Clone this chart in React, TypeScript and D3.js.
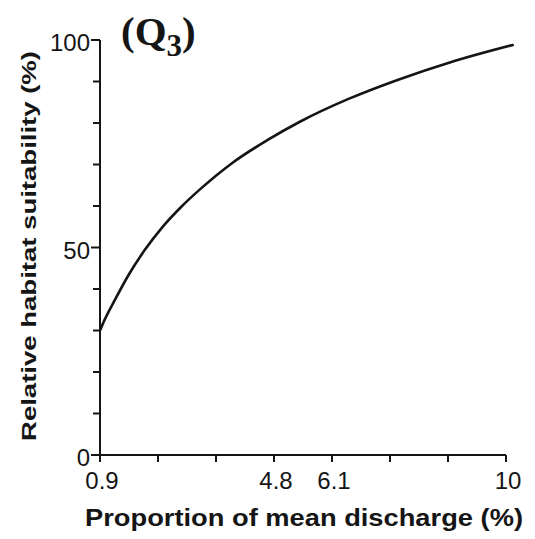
import React from "react";
import * as d3 from "d3";

const discharge = [0.9, 1.0, 1.24, 1.53, 1.91, 2.29, 2.74, 3.14, 3.88, 4.64, 5.38, 6.47, 7.6, 8.74, 10.15];
const suitability = [30, 32.5, 37.5, 43.2, 49.5, 54.8, 60.0, 64.0, 70.5, 75.8, 80.3, 85.8, 90.5, 94.6, 98.8];
const xTicks = [0.9, 2.2, 3.5, 4.8, 6.1, 7.4, 8.7, 10];
const xTickLabels = ["0.9", "", "", "4.8", "6.1", "", "", "10"];
const yTicks = [0, 10, 20, 30, 40, 50, 60, 70, 80, 90, 100];
const yTickLabels = ["0", "", "", "", "", "50", "", "", "", "", "100"];
const xTitle = "Proportion of mean discharge (%)";
const yTitle = "Relative habitat suitability (%)";

export default function App() {
  const W = 535, H = 539;
  const x = d3.scaleLinear().domain([0.9, 10]).range([100, 506]);
  const y = d3.scaleLinear().domain([0, 100]).range([455, 40]);
  const pts = discharge.map((d, i) => [d, suitability[i]] as [number, number]);
  const line = d3.line<[number, number]>().x(d => x(d[0])).y(d => y(d[1])).curve(d3.curveMonotoneX);
  const ink = "#151515";
  const sans = "'Liberation Sans', Arial, Helvetica, sans-serif";
  return (
    <svg width={W} height={H} style={{ position: "absolute", left: 0, top: 0, background: "#fff" }}>
      <rect x={0} y={0} width={W} height={H} fill="#fff" />
      {/* axes */}
      <line x1={x(0.9)} x2={x(0.9)} y1={y(100)} y2={y(0)} stroke={ink} strokeWidth={2} />
      <line x1={x(0.9)} x2={x(10)} y1={y(0)} y2={y(0)} stroke={ink} strokeWidth={2} />
      {yTicks.map((t, i) => (
        <g key={"y" + t}>
          <line x1={x(0.9) - (yTickLabels[i] ? 9 : 7)} x2={x(0.9)} y1={y(t)} y2={y(t)} stroke={ink} strokeWidth={2} />
          {yTickLabels[i] && (
            <text x={x(0.9) - 10} y={y(t) + 3} dy="0.35em" textAnchor="end" fontFamily={sans} fontSize={24} fill={ink}>
              {yTickLabels[i]}
            </text>
          )}
        </g>
      ))}
      {xTicks.map((t, i) => (
        <g key={"x" + t}>
          <line x1={x(t)} x2={x(t)} y1={y(0)} y2={y(0) + 7} stroke={ink} strokeWidth={2} />
          {xTickLabels[i] && (
            <text x={x(t) + 2} y={489} textAnchor="middle" fontFamily={sans} fontSize={24} fill={ink}>
              {xTickLabels[i]}
            </text>
          )}
        </g>
      ))}
      {/* curve */}
      <path d={line(pts) || ""} fill="none" stroke={ink} strokeWidth={2.6} strokeLinecap="round" />
      {/* titles */}
      <text x={304} y={526} textAnchor="middle" fontFamily={sans} fontWeight="bold" fontSize={23} fill={ink}
        textLength={438} lengthAdjust="spacingAndGlyphs">
        {xTitle}
      </text>
      <text transform="translate(36,246) rotate(-90)" textAnchor="middle" fontFamily={sans} fontWeight="bold" fontSize={21} fill={ink}
        textLength={390} lengthAdjust="spacingAndGlyphs">
        {yTitle}
      </text>
      <text x={121} y={45} fontFamily="'Liberation Serif', 'Times New Roman', serif" fontWeight="bold" fontSize={41} fill={ink}>
        (Q<tspan fontSize={31} dy={11}>3</tspan><tspan dy={-11}>)</tspan>
      </text>
    </svg>
  );
}
